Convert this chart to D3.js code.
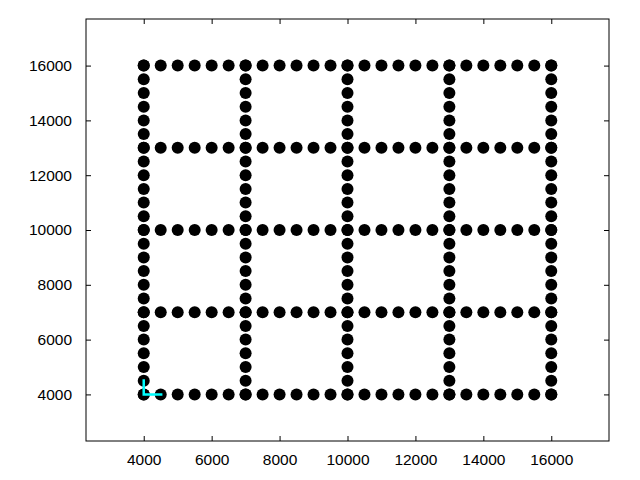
<!DOCTYPE html>
<html>
<head>
  <title>Grid points</title>
  <script src="https://cdnjs.cloudflare.com/ajax/libs/d3/7.8.5/d3.min.js"></script>
</head>
<body style="margin:0;background:#fff">
<svg width="640" height="480" id="chart"></svg>
<script>
// positions of the grid lines (both directions)
const gridLines = [4000, 7000, 10000, 13000, 16000];
// positions of the dots along each line
const steps = [4000, 4500, 5000, 5500, 6000, 6500, 7000, 7500, 8000, 8500, 9000, 9500,
  10000, 10500, 11000, 11500, 12000, 12500, 13000, 13500, 14000, 14500, 15000, 15500, 16000];
// cyan corner marker
const markerX = [4000, 4000, 4550];
const markerY = [4550, 4000, 4000];
// tick labels
const xTicks = [4000, 6000, 8000, 10000, 12000, 14000, 16000];
const yTicks = [4000, 6000, 8000, 10000, 12000, 14000, 16000];

let points = [];
gridLines.forEach(function(g) {
  steps.forEach(function(s) {
    points.push([s, g]);  // horizontal line
    points.push([g, s]);  // vertical line
  });
});

let svg = d3.select("#chart");
let plotL = 86, plotR = 609, plotT = 19, plotB = 441;

let x = d3.scaleLinear().domain([2300, 17700]).range([plotL, plotR]);
let y = d3.scaleLinear().domain([2300, 17700]).range([plotB, plotT]);

let font = "'Liberation Sans', Arial, sans-serif";

// axes with inward ticks
let xAxis = svg.append("g").attr("transform", "translate(0," + plotB + ")")
  .call(d3.axisBottom(x).tickValues(xTicks).tickSize(-5).tickPadding(13).tickFormat(d3.format("d")));
let xTop = svg.append("g").attr("transform", "translate(0," + plotT + ")")
  .call(d3.axisTop(x).tickValues(xTicks).tickSize(-5).tickFormat(""));
let yAxis = svg.append("g").attr("transform", "translate(" + plotL + ",0)")
  .call(d3.axisLeft(y).tickValues(yTicks).tickSize(-5).tickPadding(14).tickFormat(d3.format("d")));
let yRight = svg.append("g").attr("transform", "translate(" + plotR + ",0)")
  .call(d3.axisRight(y).tickValues(yTicks).tickSize(-5).tickFormat(""));

[xAxis, xTop, yAxis, yRight].forEach(function(a) {
  a.select(".domain").remove();
  a.selectAll(".tick line").attr("stroke", "#000").attr("stroke-width", 1);
  a.selectAll("text").attr("font-family", font).attr("font-size", 15.5).attr("fill", "#000");
});

svg.append("rect")
  .attr("x", plotL).attr("y", plotT)
  .attr("width", plotR - plotL).attr("height", plotB - plotT)
  .attr("fill", "none").attr("stroke", "#000").attr("stroke-width", 1);

// dots
svg.append("g").selectAll("circle")
  .data(points)
  .enter()
  .append("circle")
  .attr("cx", function(d) { return x(d[0]); })
  .attr("cy", function(d) { return y(d[1]); })
  .attr("r", 6)
  .attr("fill", "#000");

// cyan corner
svg.append("path")
  .datum(d3.zip(markerX, markerY))
  .attr("d", d3.line().x(function(d) { return x(d[0]); }).y(function(d) { return y(d[1]); }))
  .attr("fill", "none")
  .attr("stroke", "#00ffff")
  .attr("stroke-width", 2.5);
</script>
</body>
</html>
